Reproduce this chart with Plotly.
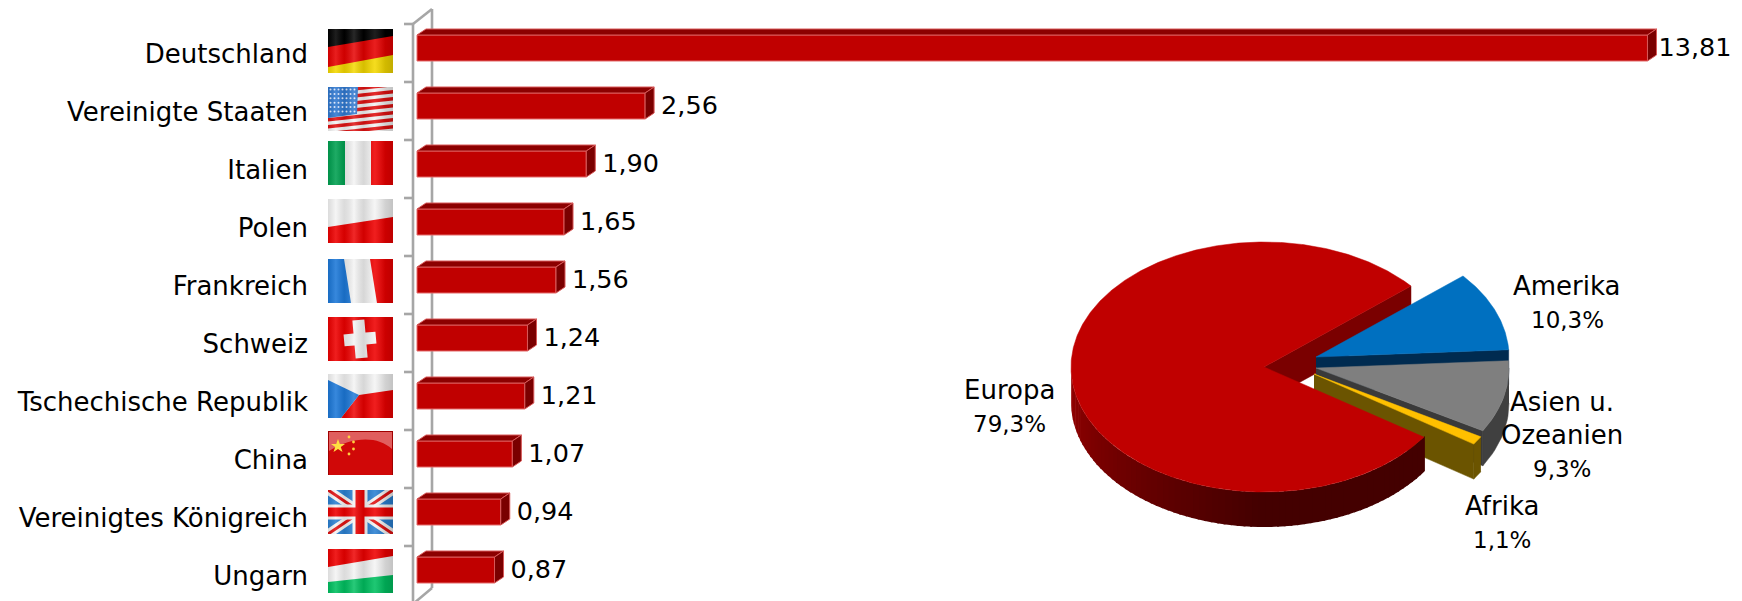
import base64
import numpy as np
import plotly.graph_objects as go

# ---- data ----
countries = ["Deutschland", "Vereinigte Staaten", "Italien", "Polen", "Frankreich", "Schweiz",
             "Tschechische Republik", "China", "Vereinigtes Königreich", "Ungarn"]
values = [13.81, 2.56, 1.90, 1.65, 1.56, 1.24, 1.21, 1.07, 0.94, 0.87]
value_labels = ["13,81", "2,56", "1,90", "1,65", "1,56", "1,24", "1,21", "1,07", "0,94", "0,87"]
regions = ["Amerika", "Asien u.<br>Ozeanien", "Afrika", "Europa"]
shares = [10.3, 9.3, 1.1, 79.3]
share_labels = ["10,3%", "9,3%", "1,1%", "79,3%"]

W, H = 1742, 601
FONT = "DejaVu Sans"
FS_TEXT = 26
FS_VALUE = 25.5
FS_PCT = 23

# ---- scales ----
PX0, PX_UNIT = 417.0, 89.1      # pixel of value 0, pixels per value unit
CAT0, CAT_STEP = 54.0, 58.0     # pixel of first category, pixels per category
BAR_H = 26.0
BAR_UP = 6.0
DX, DY = 9.0 / PX_UNIT, 6.0 / CAT_STEP

fig = go.Figure()
idx = list(range(len(countries)))
half = BAR_H / 2 / CAT_STEP
shift = BAR_UP / CAT_STEP

# top and side faces of bars
top_x, top_y, side_x, side_y = [], [], [], []
for i, v in zip(idx, values):
    t, b = i - shift - half, i - shift + half
    top_x += [0, DX, v + DX, v, 0, None]
    top_y += [t, t - DY, t - DY, t, t, None]
    side_x += [v, v + DX, v + DX, v, v, None]
    side_y += [t, t - DY, b - DY, b, t, None]
for xs, ys, col in ((top_x, top_y, "#8c0000"), (side_x, side_y, "#7a0000")):
    fig.add_trace(go.Scatter(x=xs, y=ys, mode="lines", fill="toself", fillcolor=col,
                             line=dict(color="#d85858", width=1), hoverinfo="skip", showlegend=False))
fig.add_trace(go.Bar(x=values, y=idx, orientation="h", width=2 * half, offset=-shift - half,
                     marker=dict(color="#c00000", line=dict(color="#e46a6a", width=1)),
                     hoverinfo="skip", showlegend=False))
label_gap = [11.0 if v == max(values) else 16.0 for v in values]
fig.add_trace(go.Scatter(x=[v + g / PX_UNIT for v, g in zip(values, label_gap)],
                         y=[i - shift + 2.0 / CAT_STEP for i in idx],
                         mode="text", text=value_labels, textposition="middle right",
                         textfont=dict(family=FONT, size=FS_VALUE, color="black"),
                         hoverinfo="skip", showlegend=False))

# ---- exploded 3D pie, in units of the pie radius ----
RX, RY = 193.0, 125.0
CX, CY = 1264.0, 367.0
DEPTH = 35.0 / RY
start_angle = 40.4
explode = {"Amerika": (52 / RX, 10 / RY), "Asien u.<br>Ozeanien": (52 / RX, -1 / RY),
           "Afrika": (50 / RX, -7 / RY), "Europa": (0.0, 0.0)}
styles = {"Amerika": ("#0070c0", "#002b50", None),
          "Asien u.<br>Ozeanien": ("#7f7f7f", "#3a3a3a", "#404040"),
          "Afrika": ("#ffc000", "#6b5400", "#6b5400"),
          "Europa": ("#c00000", "#7a0000", "shaded")}


def poly(xs, ys, col, width=0.5):
    fig.add_trace(go.Scatter(x=xs, y=ys, xaxis="x2", yaxis="y2", mode="lines", fill="toself",
                             fillcolor=col, line=dict(color=col, width=width),
                             hoverinfo="skip", showlegend=False))


def cut_face(ox, oy, deg, col):
    ux, uy = ox + np.cos(np.radians(deg)), oy + np.sin(np.radians(deg))
    poly([ox, ux, ux, ox], [oy, uy, uy - DEPTH, oy - DEPTH], col)


# the big slice's inner wall lies behind all the exploded slices
cut_face(0.0, 0.0, start_angle, styles["Europa"][1])

angle = start_angle
for name, share in zip(regions, shares):
    a0, a1 = angle, angle - share * 3.6
    angle = a1
    ox, oy = explode[name]
    top_c, cut_c, rim_c = styles[name]
    th = np.radians(np.linspace(a0, a1, max(8, int(share * 8))))
    ex, ey = ox + np.cos(th), oy + np.sin(th)
    if name != "Europa":
        cut_face(ox, oy, a1, cut_c)
    # outer rim
    if rim_c == "shaded":
        # the visible rim of the large slice runs from its start angle round to the far left
        degs = np.append(np.arange(a0, -180.0, -2.0), -180.0)
        for d0, d1 in zip(degs[:-1], degs[1:]):
            f = min(1.0, (d0 + 180.0) / 90.0)
            col = "rgb(%d,0,0)" % (150 - 82 * f)
            t = np.radians(np.linspace(d0 + 0.6, d1, 3))
            x, y = ox + np.cos(t), oy + np.sin(t)
            poly(np.r_[x, x[::-1]], np.r_[y, y[::-1] - DEPTH], col, 0)
    elif rim_c:
        t = np.radians(np.linspace(min(a0, 0.0), a1, 16))
        x, y = ox + np.cos(t), oy + np.sin(t)
        poly(np.r_[x, x[::-1]], np.r_[y, y[::-1] - DEPTH], rim_c)
    # top face
    poly(np.r_[ox, ex, ox], np.r_[oy, ey, oy], top_c)

# ---- axis wall drawn beside the bars ----
AX = "#a6a6a6"
shapes = []


def seg(x0, y0, x1, y1):
    shapes.append(dict(type="line", xref="paper", yref="paper", layer="below",
                       x0=x0 / W, x1=x1 / W, y0=1 - y0 / H, y1=1 - y1 / H,
                       line=dict(color=AX, width=2.6)))


seg(413, 24, 413, H)
seg(432, 9, 432, 588)
seg(413, 24, 432, 9)
seg(413, 604, 432, 588)
for k in range(len(countries)):
    seg(404, 24 + 58 * k, 413, 24 + 58 * k)

# ---- flags ----
WAVE = ('<defs><linearGradient id="w" x1="0" x2="1" y1="0" y2="0">'
        '<stop offset="0" stop-color="#000" stop-opacity=".10"/>'
        '<stop offset=".12" stop-color="#fff" stop-opacity=".12"/>'
        '<stop offset=".25" stop-color="#000" stop-opacity=".10"/>'
        '<stop offset=".4" stop-color="#fff" stop-opacity=".16"/>'
        '<stop offset=".55" stop-color="#000" stop-opacity=".12"/>'
        '<stop offset=".72" stop-color="#fff" stop-opacity=".12"/>'
        '<stop offset=".88" stop-color="#000" stop-opacity=".14"/>'
        '<stop offset="1" stop-color="#000" stop-opacity=".20"/>'
        '</linearGradient></defs>')
OVER = '<rect width="65" height="44" fill="url(#w)"/>'
R, WH = "#ee0000", "#f4f4f4"


def pg(points, col):
    return '<polygon points="%s" fill="%s"/>' % (points, col)


def usa():
    s = pg("0,0 65,0 65,44 0,44", WH)
    for k in range(0, 13, 2):
        a = k * 3.5 + 2
        s += pg(f"0,{a+1} 65,{a-6} 65,{a-2.6} 0,{a+4.4}", "#e01010")
    s += pg("0,0 30,0 29,27 0,31", "#2f78d0")
    for r in range(6):
        for c in range(7):
            s += f'<circle cx="{2.5+c*4}" cy="{2.5+r*4.4}" r="1" fill="#dfeaff"/>'
    return s + OVER


def uk():
    s = pg("0,0 65,0 65,44 0,44", "#2a80d2")
    s += '<path d="M0,0L65,44M65,0L0,44" stroke="#f4f4f4" stroke-width="9"/>'
    s += '<path d="M0,0L65,44M65,0L0,44" stroke="#e01010" stroke-width="3"/>'
    s += '<path d="M32,0V44M0,22H65" stroke="#f4f4f4" stroke-width="15"/>'
    s += '<path d="M32,0V44M0,22H65" stroke="#ee0000" stroke-width="9"/>'
    return s + OVER


def china():
    s = pg("0,0 65,0 65,46 0,46", "#a00000")
    s += pg("1,1 64,1 64,45 1,45", "#d00808")
    s += '<path d="M1,1H64V18C50,5 25,5 1,20Z" fill="#fff" fill-opacity=".35"/>'
    s += pg("10,8 11.8,13 17,13 12.8,16 14.5,21 10,18 5.5,21 7.2,16 3,13 8.2,13", "#ffe040")
    for x, y in ((21, 6), (25.5, 11), (25.5, 18), (21, 23)):
        s += f'<circle cx="{x}" cy="{y}" r="1.4" fill="#ffd040"/>'
    return s


flags = [
    pg("0,0 65,0 65,44 0,44", "#f4d800") + pg("0,0 65,0 65,26 0,38", "#e60000")
    + pg("0,0 65,0 65,7 0,18", "#000000") + OVER,
    usa(),
    pg("0,0 65,0 65,44 0,44", "#ee0000") + pg("0,0 43,0 43,44 0,44", WH)
    + pg("0,0 17,0 17,44 0,44", "#00a050") + OVER,
    pg("0,0 65,0 65,44 0,44", R) + pg("0,0 65,0 65,18 0,28", WH) + OVER,
    pg("0,0 65,0 65,44 0,44", R) + pg("0,0 42,0 49,44 0,44", WH)
    + pg("0,0 16,0 23,44 0,44", "#1c78d8") + OVER,
    pg("0,0 65,0 65,44 0,44", R)
    + '<g transform="rotate(-5 32 22)"><path d="M26,3H38V16H48V28H38V41H26V28H16V16H26Z" fill="#f4f4f4"/></g>' + OVER,
    pg("0,0 65,0 65,44 0,44", WH) + pg("31,21 65,16 65,44 13,44", R)
    + pg("0,6 31,21 13,44 0,44", "#1c78d8") + OVER,
    china(),
    uk(),
    pg("0,0 65,0 65,44 0,44", "#00c060") + pg("0,0 65,0 65,26 0,33", WH)
    + pg("0,0 65,0 65,7 0,18", "#ee0000") + OVER,
]
flag_tops = [29, 87, 141, 199, 259, 317, 374, 431, 490, 549]
images = []
for svg_body, ty in zip(flags, flag_tops):
    svg = ('<svg xmlns="http://www.w3.org/2000/svg" width="65" height="44" '
           'viewBox="0 0 65 44" preserveAspectRatio="none">' + WAVE + svg_body + '</svg>')
    src = "data:image/svg+xml;base64," + base64.b64encode(svg.encode()).decode()
    images.append(dict(source=src, xref="paper", yref="paper", x=328 / W, y=1 - ty / H,
                       sizex=65 / W, sizey=44 / H, sizing="stretch", xanchor="left", yanchor="top",
                       layer="above"))

# ---- pie labels ----
label_pos = {"Amerika": (1567, 303), "Asien u.<br>Ozeanien": (1562, 435),
             "Afrika": (1502, 523), "Europa": (1010, 407)}
annotations = []
PITCH = 33.5
for name, lab in zip(regions, share_labels):
    lines = name.split("<br>") + [lab]
    cx, cy = label_pos[name]
    for j, line in enumerate(lines):
        py = cy + PITCH * (j - (len(lines) - 1) / 2)
        annotations.append(dict(text=line, xref="paper", yref="paper", x=cx / W, y=1 - py / H,
                                xanchor="center", yanchor="middle", showarrow=False,
                                font=dict(family=FONT, size=FS_PCT if line == lab else FS_TEXT, color="black")))

fig.update_layout(
    width=W, height=H, margin=dict(l=0, r=0, t=0, b=0),
    paper_bgcolor="white", plot_bgcolor="rgba(0,0,0,0)",
    showlegend=False, shapes=shapes, images=images, annotations=annotations,
    xaxis=dict(domain=[0, 1], range=[-PX0 / PX_UNIT, (W - PX0) / PX_UNIT], visible=False, fixedrange=True),
    yaxis=dict(domain=[0, 1], range=[(H - CAT0) / CAT_STEP, -CAT0 / CAT_STEP],
               anchor="free", position=308 / W, tickmode="array", tickvals=idx, ticktext=countries,
               showgrid=False, zeroline=False, showline=False, ticks="",
               tickfont=dict(family=FONT, size=FS_TEXT, color="black"), fixedrange=True),
    xaxis2=dict(domain=[0, 1], overlaying="x", range=[-CX / RX, (W - CX) / RX], visible=False, fixedrange=True),
    yaxis2=dict(domain=[0, 1], overlaying="y", range=[-(H - CY) / RY, CY / RY], visible=False, fixedrange=True,
                anchor="x2"),
)

fig.write_html("out.html", config=dict(displayModeBar=False),
               post_script="document.body.style.margin='0';document.body.style.overflow='hidden';")
